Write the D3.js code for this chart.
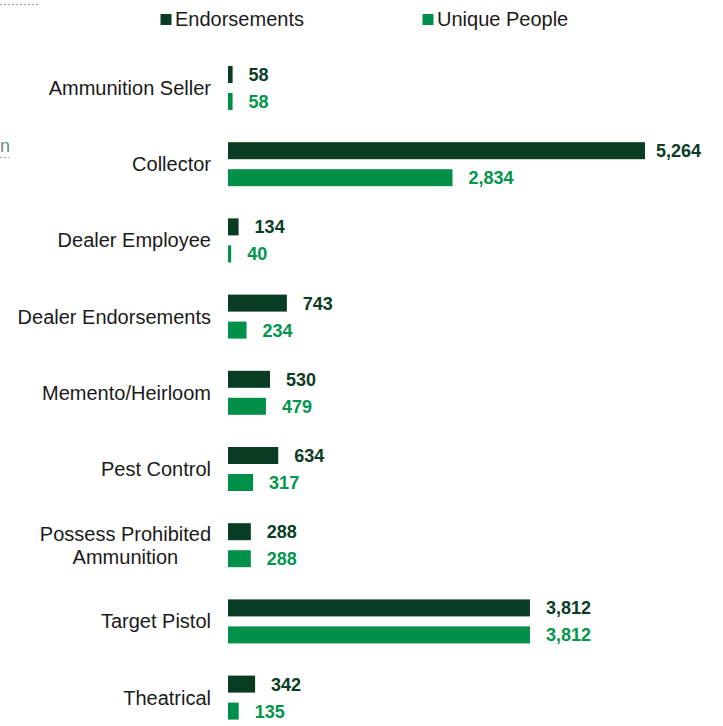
<!DOCTYPE html>
<html>
<head>
<meta charset="utf-8">
<script src="https://cdn.jsdelivr.net/npm/d3@7"></script>
<style>
  html, body { margin: 0; padding: 0; background: #fff; }
  svg { display: block; font-family: "Liberation Sans", Arial, sans-serif; }
</style>
</head>
<body>
<svg id="chart" width="723" height="726"></svg>
<script>
const categories = [
  ["Ammunition Seller"],
  ["Collector"],
  ["Dealer Employee"],
  ["Dealer Endorsements"],
  ["Memento/Heirloom"],
  ["Pest Control"],
  ["Possess Prohibited", "Ammunition"],
  ["Target Pistol"],
  ["Theatrical"]
];
const seriesNames = ["Endorsements", "Unique People"];
const endorsements = [58, 5264, 134, 743, 530, 634, 288, 3812, 342];
const uniquePeople = [58, 2834, 40, 234, 479, 317, 288, 3812, 135];
const colors = ["#083D23", "#00904A"];
const labelColors = ["#0B3D24", "#00964C"];

const svg = d3.select("#chart");
const keys = categories.map(c => c.join(" "));
const seriesValues = [endorsements, uniquePeople];

const x = d3.scaleLinear().domain([0, d3.max(endorsements)]).range([228, 645]);
const y = d3.scaleBand().domain(keys).range([49.9, 735.7]).paddingInner(0.4226).paddingOuter(0.2113);
const ySub = d3.scaleBand().domain(seriesNames).range([0, y.bandwidth()]).paddingInner(0.37);

// faint cropped artifacts from original page
svg.append("line").attr("x1", 0).attr("x2", 40).attr("y1", 4.5).attr("y2", 4.5)
  .attr("stroke", "#9aa59f").attr("stroke-width", 1).attr("stroke-dasharray", "2,2");
svg.append("text").attr("x", 0).attr("y", 152).attr("font-size", 18).attr("fill", "#6f8a7c").text("n");
svg.append("line").attr("x1", 0).attr("x2", 9).attr("y1", 157.5).attr("y2", 157.5)
  .attr("stroke", "#9aa59f").attr("stroke-width", 1).attr("stroke-dasharray", "2,2");

// legend
const legendX = [160.5, 422.5];
seriesNames.forEach((s, i) => {
  const g = svg.append("g").attr("transform", `translate(${legendX[i]},0)`);
  g.append("rect").attr("x", 0).attr("y", 14).attr("width", 11).attr("height", 11).attr("fill", colors[i]);
  g.append("text").attr("x", 14.5).attr("y", 26).attr("font-size", 20).attr("fill", "#1a1a1a").text(s);
});

// category labels
categories.forEach((lines, i) => {
  const cy = y(keys[i]) + y.bandwidth() / 2;
  const t = svg.append("text").attr("font-size", 20).attr("fill", "#1a1a1a");
  if (lines.length === 1) {
    t.attr("x", 211).attr("y", cy).attr("dy", "0.35em").attr("text-anchor", "end").text(lines[0]);
  } else {
    const tmp = svg.append("text").attr("font-size", 20).text(lines.reduce((a, b) => a.length > b.length ? a : b));
    const w = tmp.node().getComputedTextLength();
    tmp.remove();
    const lh = 23;
    t.attr("text-anchor", "middle");
    lines.forEach((ln, j) => {
      t.append("tspan").attr("x", 211 - w / 2)
        .attr("y", cy + (j - (lines.length - 1) / 2) * lh)
        .attr("dy", "0.35em").text(ln);
    });
  }
});

// bars
const fmt = d3.format(",");
seriesNames.forEach((s, si) => {
  const vals = seriesValues[si];
  svg.append("g").selectAll("rect").data(vals).join("rect")
    .attr("x", x(0))
    .attr("y", (d, i) => y(keys[i]) + ySub(s))
    .attr("width", d => x(d) - x(0))
    .attr("height", ySub.bandwidth())
    .attr("fill", colors[si]);
  svg.append("g").selectAll("text").data(vals).join("text")
    .attr("x", d => x(d) + (d === d3.max(endorsements) ? 11 : 16))
    .attr("y", (d, i) => y(keys[i]) + ySub(s) + ySub.bandwidth() / 2)
    .attr("dy", "0.36em")
    .attr("font-size", 18)
    .attr("font-weight", "bold")
    .attr("fill", labelColors[si])
    .text(d => fmt(d));
});
</script>
</body>
</html>
